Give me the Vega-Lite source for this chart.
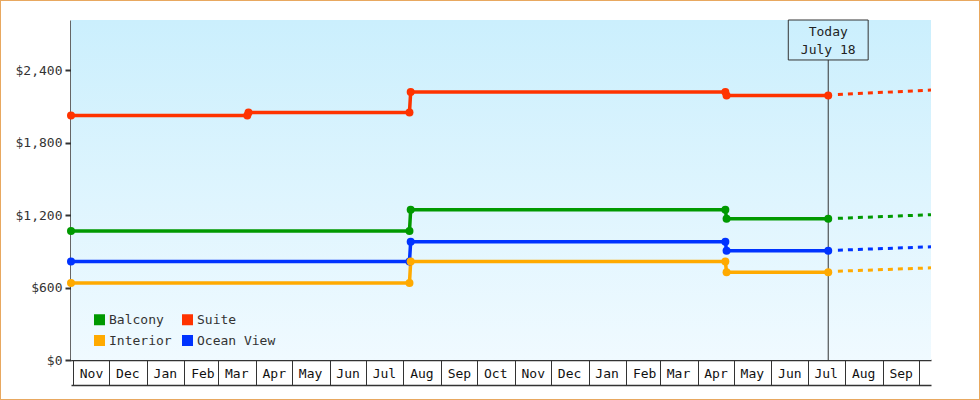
{
  "$schema": "https://vega.github.io/schema/vega-lite/v6.json",
  "width": 980,
  "height": 400,
  "autosize": "none",
  "padding": 0,
  "background": "white",
  "config": {
    "view": {"stroke": "#e8a860", "strokeWidth": 2, "fill": "white"},
    "font": "DejaVu Sans Mono"
  },
  "data": {
    "values": [
      {"cabin": "Suite", "kind": "actual", "date": "2016-10-30T08:00:00Z", "price": 2025},
      {"cabin": "Suite", "kind": "actual", "date": "2017-03-25T00:00:00Z", "price": 2025},
      {"cabin": "Suite", "kind": "actual", "date": "2017-03-26T00:00:00Z", "price": 2050},
      {"cabin": "Suite", "kind": "actual", "date": "2017-08-06T00:00:00Z", "price": 2050},
      {"cabin": "Suite", "kind": "actual", "date": "2017-08-07T00:00:00Z", "price": 2218},
      {"cabin": "Suite", "kind": "actual", "date": "2018-04-24T00:00:00Z", "price": 2218},
      {"cabin": "Suite", "kind": "actual", "date": "2018-04-25T00:00:00Z", "price": 2190},
      {"cabin": "Suite", "kind": "actual", "date": "2018-07-18T00:00:00Z", "price": 2190},
      {"cabin": "Suite", "kind": "forecast", "date": "2018-07-26T00:00:00Z", "price": 2198},
      {"cabin": "Suite", "kind": "forecast", "date": "2018-10-10T22:00:00Z", "price": 2235},

      {"cabin": "Balcony", "kind": "actual", "date": "2016-10-30T08:00:00Z", "price": 1068},
      {"cabin": "Balcony", "kind": "actual", "date": "2017-08-06T00:00:00Z", "price": 1068},
      {"cabin": "Balcony", "kind": "actual", "date": "2017-08-07T00:00:00Z", "price": 1245},
      {"cabin": "Balcony", "kind": "actual", "date": "2018-04-24T00:00:00Z", "price": 1245},
      {"cabin": "Balcony", "kind": "actual", "date": "2018-04-25T00:00:00Z", "price": 1170},
      {"cabin": "Balcony", "kind": "actual", "date": "2018-07-18T00:00:00Z", "price": 1170},
      {"cabin": "Balcony", "kind": "forecast", "date": "2018-07-26T00:00:00Z", "price": 1173},
      {"cabin": "Balcony", "kind": "forecast", "date": "2018-10-10T22:00:00Z", "price": 1203},

      {"cabin": "Ocean View", "kind": "actual", "date": "2016-10-30T08:00:00Z", "price": 815},
      {"cabin": "Ocean View", "kind": "actual", "date": "2017-08-06T00:00:00Z", "price": 815},
      {"cabin": "Ocean View", "kind": "actual", "date": "2017-08-07T00:00:00Z", "price": 980},
      {"cabin": "Ocean View", "kind": "actual", "date": "2018-04-24T00:00:00Z", "price": 980},
      {"cabin": "Ocean View", "kind": "actual", "date": "2018-04-25T00:00:00Z", "price": 905},
      {"cabin": "Ocean View", "kind": "actual", "date": "2018-07-18T00:00:00Z", "price": 905},
      {"cabin": "Ocean View", "kind": "forecast", "date": "2018-07-26T00:00:00Z", "price": 909},
      {"cabin": "Ocean View", "kind": "forecast", "date": "2018-10-10T22:00:00Z", "price": 937},

      {"cabin": "Interior", "kind": "actual", "date": "2016-10-30T08:00:00Z", "price": 638},
      {"cabin": "Interior", "kind": "actual", "date": "2017-08-06T00:00:00Z", "price": 638},
      {"cabin": "Interior", "kind": "actual", "date": "2017-08-07T00:00:00Z", "price": 815},
      {"cabin": "Interior", "kind": "actual", "date": "2018-04-24T00:00:00Z", "price": 815},
      {"cabin": "Interior", "kind": "actual", "date": "2018-04-25T00:00:00Z", "price": 727},
      {"cabin": "Interior", "kind": "actual", "date": "2018-07-18T00:00:00Z", "price": 727},
      {"cabin": "Interior", "kind": "forecast", "date": "2018-07-26T00:00:00Z", "price": 735},
      {"cabin": "Interior", "kind": "forecast", "date": "2018-10-10T22:00:00Z", "price": 763}
    ]
  },
  "resolve": {"axis": {"x": "independent", "y": "independent"}, "legend": {"color": "independent"}},
  "layer": [
    {
      "data": {"values": [{}]},
      "mark": {
        "type": "rect",
        "fill": {
          "gradient": "linear", "x1": 0, "y1": 0, "x2": 0, "y2": 1,
          "stops": [{"offset": 0, "color": "#cbeffd"}, {"offset": 1, "color": "#f0faff"}]
        }
      },
      "encoding": {
        "x": {
          "datum": {"year": 2016, "month": 10, "date": 30, "hours": 8, "utc": true},
          "type": "temporal",
          "scale": {"type": "utc", "domain": [{"year": 2016, "month": 10, "date": 30, "hours": 8, "utc": true}, {"year": 2018, "month": 10, "date": 10, "hours": 22, "utc": true}], "range": [71, 931]},
          "axis": {"orient": "bottom", "offset": -15, "ticks": false, "labels": false, "domain": true, "domainColor": "#333", "domainWidth": 1.5, "grid": false, "title": null}
        },
        "x2": {"datum": {"year": 2018, "month": 10, "date": 10, "hours": 22, "utc": true}},
        "y": {
          "datum": 0,
          "type": "quantitative",
          "scale": {"domain": [0, 2815], "range": [360, 20], "nice": false, "zero": false},
          "axis": {
            "orient": "left", "offset": -71, "values": [0, 600, 1200, 1800, 2400], "format": "$,.0f",
            "title": null, "grid": false, "domainColor": "#333", "domainWidth": 2.5,
            "tickColor": "#333", "tickWidth": 2, "tickSize": 6, "labelPadding": 3,
            "labelFont": "DejaVu Sans Mono", "labelFontSize": 13, "labelColor": "#333"
          }
        },
        "y2": {"datum": 2815}
      }
    },
    {
      "data": {"values": [{}]},
      "mark": {"type": "rule", "color": "#333", "strokeWidth": 1},
      "encoding": {
        "x": {"datum": {"year": 2018, "month": 7, "date": 18, "utc": true}, "type": "temporal", "scale": {"type": "utc", "domain": [{"year": 2016, "month": 10, "date": 30, "hours": 8, "utc": true}, {"year": 2018, "month": 10, "date": 10, "hours": 22, "utc": true}], "range": [71, 931]}, "axis": null},
        "y": {"datum": 0, "type": "quantitative", "scale": {"domain": [0, 2815], "range": [360, 20], "nice": false, "zero": false}, "axis": null},
        "y2": {"datum": 2484}
      }
    },
    {
      "data": {"values": [{}]},
      "mark": {"type": "rect", "stroke": "#333", "strokeWidth": 1, "fillOpacity": 0},
      "encoding": {
        "x": {"datum": {"year": 2018, "month": 6, "date": 15, "utc": true}, "type": "temporal", "scale": {"type": "utc", "domain": [{"year": 2016, "month": 10, "date": 30, "hours": 8, "utc": true}, {"year": 2018, "month": 10, "date": 10, "hours": 22, "utc": true}], "range": [71, 931]}, "axis": null},
        "x2": {"datum": {"year": 2018, "month": 8, "date": 20, "utc": true}},
        "y": {"datum": 2484, "type": "quantitative", "scale": {"domain": [0, 2815], "range": [360, 20], "nice": false, "zero": false}, "axis": null},
        "y2": {"datum": 2815}
      }
    },
    {
      "data": {"values": [{}]},
      "mark": {"type": "text", "text": ["Today", "July 18"], "lineHeight": 18, "baseline": "middle", "align": "center", "fontSize": 13, "font": "DejaVu Sans Mono", "color": "#222"},
      "encoding": {
        "x": {"datum": {"year": 2018, "month": 7, "date": 18, "utc": true}, "type": "temporal", "scale": {"type": "utc", "domain": [{"year": 2016, "month": 10, "date": 30, "hours": 8, "utc": true}, {"year": 2018, "month": 10, "date": 10, "hours": 22, "utc": true}], "range": [71, 931]}, "axis": null},
        "y": {"datum": 2716, "type": "quantitative", "scale": {"domain": [0, 2815], "range": [360, 20], "nice": false, "zero": false}, "axis": null}
      }
    },
    {
      "transform": [{"filter": "datum.kind == 'actual'"}],
      "mark": {"type": "line", "strokeWidth": 3.5},
      "encoding": {
        "x": {
          "field": "date", "type": "temporal",
          "scale": {"type": "utc", "domain": [{"year": 2016, "month": 10, "date": 30, "hours": 8, "utc": true}, {"year": 2018, "month": 10, "date": 10, "hours": 22, "utc": true}], "range": [71, 931]},
          "axis": {
            "orient": "bottom", "offset": -40, "title": null, "grid": false,
            "values": [
              {"year": 2016, "month": 11, "date": 1, "utc": true},
              {"year": 2016, "month": 12, "date": 1, "utc": true},
              {"year": 2017, "month": 1, "date": 1, "utc": true},
              {"year": 2017, "month": 2, "date": 1, "utc": true},
              {"year": 2017, "month": 3, "date": 1, "utc": true},
              {"year": 2017, "month": 4, "date": 1, "utc": true},
              {"year": 2017, "month": 5, "date": 1, "utc": true},
              {"year": 2017, "month": 6, "date": 1, "utc": true},
              {"year": 2017, "month": 7, "date": 1, "utc": true},
              {"year": 2017, "month": 8, "date": 1, "utc": true},
              {"year": 2017, "month": 9, "date": 1, "utc": true},
              {"year": 2017, "month": 10, "date": 1, "utc": true},
              {"year": 2017, "month": 11, "date": 1, "utc": true},
              {"year": 2017, "month": 12, "date": 1, "utc": true},
              {"year": 2018, "month": 1, "date": 1, "utc": true},
              {"year": 2018, "month": 2, "date": 1, "utc": true},
              {"year": 2018, "month": 3, "date": 1, "utc": true},
              {"year": 2018, "month": 4, "date": 1, "utc": true},
              {"year": 2018, "month": 5, "date": 1, "utc": true},
              {"year": 2018, "month": 6, "date": 1, "utc": true},
              {"year": 2018, "month": 7, "date": 1, "utc": true},
              {"year": 2018, "month": 8, "date": 1, "utc": true},
              {"year": 2018, "month": 9, "date": 1, "utc": true},
              {"year": 2018, "month": 10, "date": 1, "utc": true}
            ],
            "labelExpr": "utcyear(datum.value) == 2018 && utcmonth(datum.value) == 9 ? '' : utcFormat(datum.value, '%b')",
            "labelOffset": 18, "labelPadding": -12, "labelBaseline": "middle", "labelAlign": "center",
            "labelFlush": false, "labelOverlap": false,
            "labelFont": "DejaVu Sans Mono", "labelFontSize": 13, "labelColor": "#111",
            "tickSize": 25, "tickColor": "#333", "tickWidth": 1,
            "domainColor": "#333", "domainWidth": 1.5
          }
        },
        "y": {"field": "price", "type": "quantitative", "scale": {"domain": [0, 2815], "range": [360, 20], "nice": false, "zero": false}, "axis": null},
        "color": {
          "field": "cabin", "type": "nominal",
          "scale": {"domain": ["Balcony", "Interior", "Suite", "Ocean View"], "range": ["#009900", "#ffaa00", "#ff3300", "#0033ff"]},
          "legend": null
        }
      }
    },
    {
      "transform": [{"filter": "datum.kind == 'forecast'"}],
      "mark": {"type": "line", "strokeWidth": 3, "strokeDash": [5, 5]},
      "encoding": {
        "x": {"field": "date", "type": "temporal", "scale": {"type": "utc", "domain": [{"year": 2016, "month": 10, "date": 30, "hours": 8, "utc": true}, {"year": 2018, "month": 10, "date": 10, "hours": 22, "utc": true}], "range": [71, 931]}, "axis": null},
        "y": {"field": "price", "type": "quantitative", "scale": {"domain": [0, 2815], "range": [360, 20], "nice": false, "zero": false}, "axis": null},
        "color": {
          "field": "cabin", "type": "nominal",
          "scale": {"domain": ["Balcony", "Interior", "Suite", "Ocean View"], "range": ["#009900", "#ffaa00", "#ff3300", "#0033ff"]},
          "legend": null
        }
      }
    },
    {
      "transform": [{"filter": "datum.kind == 'actual'"}],
      "mark": {"type": "point", "filled": true, "shape": "circle", "size": 64, "opacity": 1},
      "encoding": {
        "x": {"field": "date", "type": "temporal", "scale": {"type": "utc", "domain": [{"year": 2016, "month": 10, "date": 30, "hours": 8, "utc": true}, {"year": 2018, "month": 10, "date": 10, "hours": 22, "utc": true}], "range": [71, 931]}, "axis": null},
        "y": {"field": "price", "type": "quantitative", "scale": {"domain": [0, 2815], "range": [360, 20], "nice": false, "zero": false}, "axis": null},
        "color": {
          "field": "cabin", "type": "nominal",
          "scale": {"domain": ["Balcony", "Interior", "Suite", "Ocean View"], "range": ["#009900", "#ffaa00", "#ff3300", "#0033ff"]},
          "legend": {
            "orient": "none", "legendX": 93, "legendY": 313, "columns": 2, "title": null,
            "symbolType": "square", "symbolSize": 121, "symbolStrokeWidth": 0, "symbolOpacity": 1,
            "labelFont": "DejaVu Sans Mono", "labelFontSize": 13, "labelColor": "#333",
            "labelOffset": 3, "columnPadding": 9, "rowPadding": 7
          }
        }
      }
    }
  ]
}
